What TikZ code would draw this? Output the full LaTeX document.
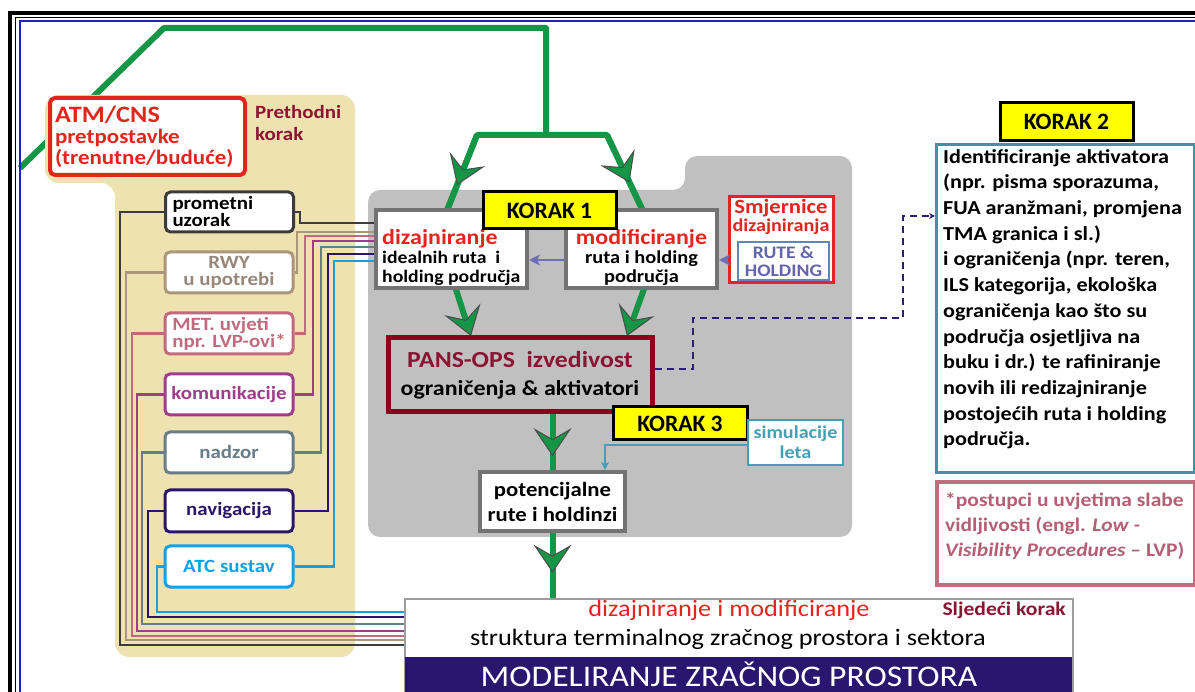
\documentclass[tikz,border=0pt]{standalone}
\usepackage{fontspec}
\setmainfont{Carlito}[FakeStretch=1.12]
\newfontfamily\plainfont{Carlito}
\usetikzlibrary{arrows.meta,decorations.markings}
\pgfdeclarelayer{bg}
\pgfdeclarelayer{mid}
\pgfsetlayers{bg,mid,main}
\definecolor{grn}{RGB}{20,150,70}
\definecolor{myBeige}{RGB}{238,226,176}
\definecolor{bggray}{RGB}{192,192,192}
\definecolor{myred}{RGB}{226,38,30}
\definecolor{dred}{RGB}{140,20,50}
\definecolor{panscol}{RGB}{140,0,30}
\definecolor{myyellow}{RGB}{255,255,0}
\definecolor{cProm}{RGB}{60,60,60}
\definecolor{cRwy}{RGB}{170,150,120}
\definecolor{cRwyT}{RGB}{150,135,120}
\definecolor{cMet}{RGB}{195,105,125}
\definecolor{cKom}{RGB}{160,60,140}
\definecolor{cNad}{RGB}{105,125,135}
\definecolor{cNav}{RGB}{42,22,105}
\definecolor{cAtc}{RGB}{20,160,230}
\definecolor{cArr}{RGB}{110,110,180}
\definecolor{cTeal}{RGB}{60,150,160}
\definecolor{cSim}{RGB}{70,160,180}
\definecolor{cLvp}{RGB}{190,110,125}
\definecolor{cLvpT}{RGB}{180,95,115}
\definecolor{cNavy}{RGB}{42,22,110}
\definecolor{cDash}{RGB}{45,30,115}
\definecolor{boxgray}{RGB}{115,115,115}
\definecolor{cRute}{RGB}{100,100,170}
\definecolor{cRuteB}{RGB}{100,130,190}
\definecolor{frameblue}{RGB}{30,30,200}
\tikzset{
  gtip/.tip={Stealth[length=28pt,width=38pt,inset=11pt,fill=grn,color=black!70,line width=1pt]},
  gline/.style={draw=grn,line width=6pt},
  marrow/.style={postaction={decorate,decoration={markings,mark=at position #1 with {\arrow{gtip}}}}},
  sidebox/.style={draw=#1,text=#1,line width=3pt,fill=white,rounded corners=5pt,minimum width=128pt,minimum height=41pt,inner sep=0pt,align=center,font=\bfseries\fontsize{18.7}{17}\selectfont},
  conn/.style={draw=#1,line width=2.5pt},
  gbox/.style={draw=boxgray,line width=4pt,fill=white,inner sep=0pt},
  korak/.style={draw=black,line width=3pt,fill=myyellow,inner sep=0pt,minimum width=133pt,font=\plainfont\bfseries\fontsize{23.5}{23}\selectfont},
  ptip/.tip={Stealth[length=11pt,width=11pt,inset=3pt]},
  parrow/.style={draw=cArr,line width=2.5pt,-{ptip}},
  txt/.style={inner sep=0pt,font=\bfseries},
}
\begin{document}
\begin{tikzpicture}[x=1pt,y=-1pt]
\useasboundingbox (0,0) rectangle (1195,692);
% frame
\draw[line width=4pt] (9.5,700) -- (9.5,13) -- (1200,13);
\draw[line width=1pt] (15,700) -- (15,17.5) -- (1200,17.5);
\draw[frameblue,line width=2pt] (19.5,700) -- (19.5,21.5) -- (1200,21.5);

\begin{pgfonlayer}{bg}
\fill[bggray,rounded corners=12pt] (368,190) -- (685,190) -- (685,156) -- (852,156) -- (852,537) -- (368,537) -- cycle;
\draw[gline,line join=round] (20,168) -- (164,28) -- (546,28) -- (546,135);
\draw[gline,line join=round] (440,228) -- (477,135) -- (607,135) -- (652,230);
\draw[gline,marrow=0.54] (477,135) -- (440,228);
\draw[gline,marrow=0.5] (607,135) -- (652,230);
\draw[gline,-{gtip}] (440,240) -- (471,336);
\draw[gline,-{gtip}] (660,245) -- (627,336);
\fill[myBeige,rounded corners=14pt] (45,95) -- (355,95) -- (355,657) -- (115,657) -- (115,183) -- (45,183) -- cycle;
\end{pgfonlayer}

% left column
\node[draw=myred,line width=4pt,fill=white,rounded corners=5pt,minimum width=195pt,minimum height=77pt,inner sep=0pt,text=myred,text width=185pt,align=left,font=\bfseries\fontsize{20.5}{21}\selectfont] (atm) at (147.5,136.5) {{\fontsize{23.5}{22}\selectfont ATM/CNS}\\pretpostavke\\(trenutne/buduće)};
\node[txt,text=dred,align=left,anchor=north west,font=\bfseries\fontsize{18.7}{22}\selectfont] (prev) at (255,105) {Prethodni\\korak};

\node[sidebox=cProm,text=black,text width=114pt,align=left,minimum height=40pt] (prom) at (229.5,212) {prometni\\uzorak};
\node[sidebox=cRwy,text=cRwyT] (rwy) at (229,272.5) {RWY\\u upotrebi};
\node[sidebox=cMet,align=left] (met) at (229,333.5) {MET. uvjeti\\npr. LVP-ovi*};
\node[sidebox=cKom] (kom) at (229,394.5) {komunikacije};
\node[sidebox=cNad] (nad) at (229,452.5) {nadzor};
\node[sidebox=cNav,minimum height=42pt] (nav) at (229,511) {navigacija};
\node[sidebox=cAtc] (atc) at (229,566.5) {ATC sustav};

% step 1
\node[gbox,minimum width=151pt,minimum height=78pt] (diz) at (451.5,249) {};
\node[txt,anchor=north west,align=left,font=\bfseries\fontsize{17.6}{19}\selectfont] (dizt) at (382,229) {\textcolor{myred}{\fontsize{21.4}{19}\selectfont dizajniranje}\\idealnih ruta\ \ i\\holding područja};
\node[gbox,minimum width=151pt,minimum height=78pt] (mod) at (641.5,249) {};
\node[txt,anchor=north,align=center,font=\bfseries\fontsize{18.2}{19}\selectfont] (modt) at (641.5,229) {\textcolor{myred}{\fontsize{21.4}{19}\selectfont modificiranje}\\ruta i holding\\područja};
\node[korak,minimum height=37pt] (k1) at (549.5,210.5) {KORAK 1};

\node[draw=myred,line width=3pt,fill=white,minimum width=104pt,minimum height=86pt,inner sep=0pt] (smj) at (781,240) {};
\node[txt,text=myred,align=center,anchor=north,font=\bfseries\fontsize{18}{18}\selectfont] (smjt) at (781,199) {{\fontsize{20.3}{19}\selectfont Smjernice}\\dizajniranja};
\node[draw=cRuteB,line width=2pt,fill=white,minimum width=91pt,minimum height=38pt,inner sep=0pt,text=cRute,align=center,font=\bfseries\fontsize{17.6}{18}\selectfont] (rute) at (783.5,261) {RUTE \&\\HOLDING};

\node[draw=panscol,line width=5pt,minimum width=264pt,minimum height=74pt,inner sep=0pt,align=center,font=\bfseries\fontsize{21.4}{28}\selectfont] (pans) at (520,375) {\textcolor{dred}{\fontsize{23}{28}\selectfont PANS-OPS\ \ izvedivost}\\ograničenja \& aktivatori};

% step 3
\node[korak,minimum width=134pt,minimum height=33pt] (k3) at (680,423.5) {KORAK 3};
\node[draw=cSim,line width=2.5pt,fill=white,minimum width=95pt,minimum height=45pt,inner sep=0pt,text=cSim,align=center,font=\bfseries\fontsize{18}{20}\selectfont] (sim) at (795.5,442.5) {simulacije\\leta};
\node[gbox,minimum width=145pt,minimum height=59pt,align=center,font=\bfseries\fontsize{20.3}{25}\selectfont] (pot) at (552.5,501.5) {potencijalne\\rute i holdinzi};

% step 2
\node[draw=cTeal,line width=3pt,fill=white,minimum width=258pt,minimum height=328pt,inner sep=0pt,anchor=north west] (k2box) at (935,143) {};
\node[korak,minimum height=38pt] (k2) at (1066.5,122) {KORAK 2};
\node[txt,anchor=north west,align=left,font=\bfseries\fontsize{19.8}{25.7}\selectfont] (k2t) at (943,149) {Identificiranje aktivatora\\(npr. pisma sporazuma,\\FUA aranžmani, promjena\\TMA granica i sl.)\\i ograničenja (npr. teren,\\ILS kategorija, ekološka\\ograničenja kao što su\\područja osjetljiva na\\buku i dr.) te rafiniranje\\novih ili redizajniranje\\postojećih ruta i holding\\područja.};

\node[draw=cLvp,line width=4pt,fill=white,minimum width=258pt,minimum height=103pt,inner sep=0pt,anchor=north west] (lvp) at (935,480) {};
\node[txt,text=cLvpT,anchor=north west,align=left,font=\bfseries\fontsize{19.2}{25}\selectfont] (lvpt) at (945,493) {*postupci u uvjetima slabe\\vidljivosti (engl. \textit{Low -}\\\textit{Visibility Procedures} – LVP)};

% bottom
\node[draw=boxgray!70,line width=2pt,fill=white,minimum width=668pt,minimum height=110pt,inner sep=0pt,anchor=north west] (bot) at (404,598) {};
\node[fill=cNavy,minimum width=667pt,minimum height=40pt,inner sep=0pt,anchor=north west] (band) at (405,657) {};
\node[txt,anchor=base,text=white,font=\fontsize{30}{30}\selectfont] (bandt) at (729,686) {MODELIRANJE ZRAČNOG PROSTORA};
\node[txt,anchor=base,text=myred,font=\fontsize{23.5}{22}\selectfont] (botr) at (729,616) {dizajniranje i modificiranje};
\node[txt,anchor=base,font=\fontsize{23.5}{22}\selectfont] (botb) at (728,645) {struktura terminalnog zračnog prostora i sektora};
\node[txt,anchor=base east,text=dred,font=\bfseries\fontsize{19.3}{18}\selectfont] (next) at (1066,615) {Sljedeći korak};

\begin{pgfonlayer}{mid}
\draw[conn=cProm] (prom.east) -| (300,223) -- (diz.west |- 0,223);
\draw[conn=cRwy] (rwy.east) -| (297,232) -- (diz.west |- 0,232);
\draw[conn=cMet] (met.east) -| (305,236) -- (diz.west |- 0,236);
\draw[conn=cKom] (kom.east) -| (313,241) -- (diz.west |- 0,241);
\draw[conn=cNad] (nad.east) -| (321,247) -- (diz.west |- 0,247);
\draw[conn=cNav] (nav.east) -| (328,254) -- (diz.west |- 0,254);
\draw[conn=cAtc] (atc.east) -| (334,261) -- (diz.west |- 0,261);
\draw[conn=cProm] (prom.west) -| (120,645) -- (bot.west |- 0,645);
\draw[conn=cRwy] (rwy.west) -| (126,640) -- (bot.west |- 0,640);
\draw[conn=cMet] (met.west) -| (132,636) -- (bot.west |- 0,636);
\draw[conn=cKom] (kom.west) -| (137,631) -- (bot.west |- 0,631);
\draw[conn=cNad] (nad.west) -| (142,624) -- (bot.west |- 0,624);
\draw[conn=cNav] (nav.west) -| (148,617) -- (bot.west |- 0,617);
\draw[conn=cAtc] (atc.west) -| (157,612) -- (bot.west |- 0,612);
\draw[gline,marrow=0.75] (pot.north |- pans.south) -- (pot.north);
\draw[gline,marrow=0.61] (pot.south) -- (pot.south |- bot.north);
\end{pgfonlayer}

\draw[parrow] (mod.west |- 0,260) -- (diz.east |- 0,260);
\draw[parrow] (smj.west |- 0,260) -- (mod.east |- 0,260);
\draw[draw=cSim,line width=2pt,-{Stealth[length=8pt,width=8pt,inset=2pt]}] (sim.west |- 0,445) -| (pot.north -| 605,0);
\draw[draw=cDash,line width=2pt,dash pattern=on 7pt off 5pt,-{Stealth[length=6pt,width=6pt]}] (pans.east |- 0,369) -- (693,369) -- (693,318) -- (903,318) -- (903,216) -- (k2box.west |- 0,216);
\end{tikzpicture}
\end{document}
